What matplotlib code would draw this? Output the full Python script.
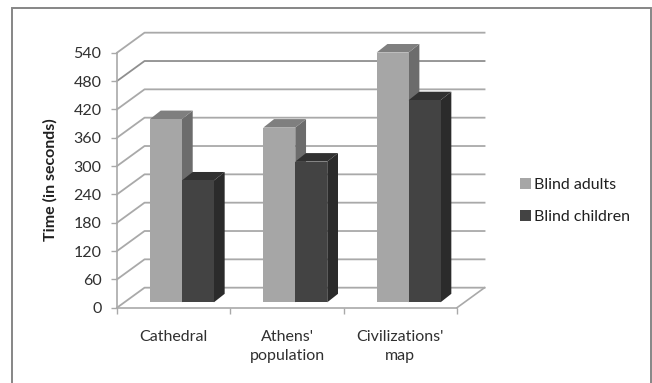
import matplotlib
matplotlib.use("Agg")
import matplotlib.pyplot as plt
from matplotlib.patches import Patch, Polygon, Rectangle

categories = ["Cathedral", "Athens'\npopulation", "Civilizations'\nmap"]
series_names = ["Blind adults", "Blind children"]
blind_adults = [388, 370, 529]
blind_children = [258, 298, 428]
y_ticks = [0, 60, 120, 180, 240, 300, 360, 420, 480, 540]

WIDTH, HEIGHT = 652, 383
X0, X1 = 117, 457
Y0, Y1 = 307.7, 52.7

GRID = "#a9a9a9"
TEXT = "#303030"
# front, top, side
ADULT = ("#a6a6a6", "#7f7f7f", "#6c6c6c")
CHILD = ("#434343", "#313131", "#2b2b2b")

# depth of the walls and of the bars, in axis units
WALL_DX, WALL_DY = 0.243, 42.4
BAR_DX, BAR_DY = 0.095, 18
BASE = 11.4
BAR_START, BAR_W = 0.291, 0.282

plt.rcParams["font.family"] = ["Lato", "DejaVu Sans"]

fig = plt.figure(figsize=(WIDTH / 100, HEIGHT / 100), dpi=100)
fig.patches.append(Rectangle((12 / WIDTH, -0.02), 638.5 / WIDTH, 1.02 - 7.5 / HEIGHT,
                             transform=fig.transFigure, fc="white", ec="#868686", lw=1.4,
                             zorder=-1))

ax = fig.add_axes([X0 / WIDTH, 1 - Y0 / HEIGHT, (X1 - X0) / WIDTH, (Y0 - Y1) / HEIGHT])
ax.patch.set_visible(False)
ax.set_xlim(0, 3)
ax.set_ylim(0, 540)


def bar3d(x, value, colors):
    top = BASE + value
    ax.add_patch(Polygon([(x + BAR_W, BASE), (x + BAR_W + BAR_DX, BASE + BAR_DY),
                          (x + BAR_W + BAR_DX, top + BAR_DY), (x + BAR_W, top)],
                         fc=colors[2], ec="none", clip_on=False, zorder=3))
    ax.add_patch(Polygon([(x, top), (x + BAR_W, top),
                          (x + BAR_W + BAR_DX, top + BAR_DY), (x + BAR_DX, top + BAR_DY)],
                         fc=colors[1], ec="none", clip_on=False, zorder=3))
    ax.add_patch(Rectangle((x, BASE), BAR_W, value, fc=colors[0], ec="none",
                           clip_on=False, zorder=3))


# back wall and side wall grid
for v in y_ticks:
    ax.plot([0, WALL_DX, 3 + WALL_DX], [v, v + WALL_DY, v + WALL_DY],
            color="#8f8f8f" if v == 480 else GRID, lw=1.3, clip_on=False, zorder=1)
ax.plot([3, 3 + WALL_DX], [0, WALL_DY], color=GRID, lw=1.2, clip_on=False, zorder=1)

for i in range(len(categories)):
    bar3d(i + BAR_START, blind_adults[i], ADULT)
    bar3d(i + BAR_START + BAR_W, blind_children[i], CHILD)

for side in ["top", "right"]:
    ax.spines[side].set_visible(False)
for side in ["left", "bottom"]:
    ax.spines[side].set_color(GRID)
    ax.spines[side].set_linewidth(1.2)
    ax.spines[side].set_zorder(2)

ax.set_yticks(y_ticks)
ax.set_xticks([0, 1, 2, 3])
ax.set_xticklabels([])
ax.set_xticks([0.5, 1.5, 2.5], categories, minor=True)
ax.tick_params(axis="y", length=4.5, width=1, color=GRID, labelsize=11.5, labelcolor=TEXT, pad=6.7)
ax.tick_params(axis="x", which="major", length=4.5, width=1, color=GRID)
ax.tick_params(axis="x", which="minor", length=0, labelsize=11.5, labelcolor=TEXT, pad=16)
for label in ax.get_xticklabels(minor=True):
    label.set_linespacing(1.5)

fig.text(50 / WIDTH, 1 - 180 / HEIGHT, "Time (in seconds)", rotation=90, ha="center",
         va="center", fontsize=11.5, fontweight="bold", color="#202020")

handles = [Patch(fc=ADULT[0]), Patch(fc=CHILD[0])]
fig.legend(handles, series_names, loc="center left", frameon=False,
           bbox_to_anchor=(506 / WIDTH, 1 - 201 / HEIGHT), fontsize=11.5, labelcolor="#202020",
           handlelength=0.65, handleheight=0.65, handletextpad=0.2, labelspacing=1.15)

fig.savefig("out.png", dpi=100)
